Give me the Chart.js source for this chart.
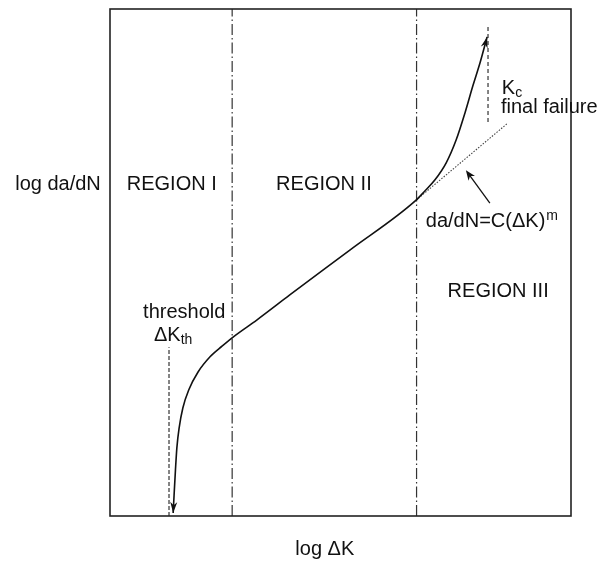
<!DOCTYPE html>
<html>
<head>
<meta charset="utf-8">
<script src="https://cdn.jsdelivr.net/npm/chart.js@4/dist/chart.umd.min.js"></script>
<style>
  html, body { margin: 0; padding: 0; background: #fff; }
  #wrap { width: 603px; height: 563px; }
</style>
</head>
<body>
<div id="wrap"><canvas id="c" width="603" height="563"></canvas></div>
<script>
// Schematic fatigue crack growth curve: log da/dN against log ΔK (arbitrary units 0..10)
const axisRange = [0, 10];

// Crack growth curve (sigmoidal)
const curveX = [1.37, 1.39, 1.42, 1.45, 1.50, 1.58, 1.71, 1.91, 2.17, 2.43, 2.67, 3.19, 3.90, 5.21, 6.64, 6.83, 7.05, 7.29, 7.51, 7.70, 7.87, 8.03, 8.18];
const curveY = [0.06, 0.41, 0.91, 1.34, 1.74, 2.13, 2.49, 2.84, 3.14, 3.35, 3.53, 3.87, 4.36, 5.25, 6.23, 6.41, 6.63, 6.96, 7.42, 7.95, 8.48, 8.95, 9.45];

// Region boundaries (log ΔK)
const regionBounds = [2.65, 6.65];

// Threshold ΔKth marker
const thresholdX = [1.28, 1.28];
const thresholdY = [0, 3.33];

// Kc marker
const kcX = [8.20, 8.20];
const kcY = [7.77, 9.68];

// Paris-law extension da/dN = C(ΔK)^m
const parisX = [6.64, 8.63];
const parisY = [6.23, 7.75];

const pts = (xs, ys) => xs.map((x, i) => ({ x, y: ys[i] }));

const FONT = '"Liberation Sans", Arial, sans-serif';
const BIG = '20px ' + FONT;
const SMALL = '14px ' + FONT;

// Text annotations placed in data coordinates
const notes = [
  { text: 'REGION I',   x: 1.34, y: 6.53 },
  { text: 'REGION II',  x: 4.64, y: 6.53 },
  { text: 'REGION III', x: 8.42, y: 4.42 },
  { text: 'threshold',  x: 1.61, y: 4.02 }
];

function drawArrowHead(ctx, tipX, tipY, fromX, fromY, len, half) {
  const a = Math.atan2(tipY - fromY, tipX - fromX);
  ctx.beginPath();
  ctx.moveTo(tipX, tipY);
  ctx.lineTo(tipX - len * Math.cos(a) + half * Math.sin(a), tipY - len * Math.sin(a) - half * Math.cos(a));
  ctx.lineTo(tipX - len * Math.cos(a) * 0.7, tipY - len * Math.sin(a) * 0.7);
  ctx.lineTo(tipX - len * Math.cos(a) - half * Math.sin(a), tipY - len * Math.sin(a) + half * Math.cos(a));
  ctx.closePath();
  ctx.fill();
}

const decorations = {
  id: 'decorations',
  afterDatasetsDraw(chart) {
    const { ctx, chartArea: ca, scales: { x: sx, y: sy } } = chart;
    const px = v => sx.getPixelForValue(v);
    const py = v => sy.getPixelForValue(v);
    ctx.save();

    // frame
    ctx.strokeStyle = '#222';
    ctx.lineWidth = 1.6;
    ctx.strokeRect(ca.left, ca.top, ca.right - ca.left, ca.bottom - ca.top);

    ctx.fillStyle = '#111';
    ctx.textBaseline = 'middle';
    ctx.font = BIG;
    ctx.textAlign = 'center';
    notes.forEach(n => ctx.fillText(n.text, px(n.x), py(n.y)));

    // ΔK_th
    ctx.textAlign = 'left';
    let x0 = px(1.41) - 21, y0 = py(3.57);
    ctx.fillText('ΔK', x0, y0);
    let w = ctx.measureText('ΔK').width;
    ctx.font = SMALL;
    ctx.fillText('th', x0 + w, y0 + 5);

    // K_c and final failure
    ctx.font = BIG;
    x0 = px(8.50); y0 = py(8.44);
    ctx.fillText('K', x0, y0);
    w = ctx.measureText('K').width;
    ctx.font = SMALL;
    ctx.fillText('c', x0 + w, y0 + 5);
    ctx.font = BIG;
    ctx.fillText('final failure', px(8.48), py(8.05));

    // da/dN=C(ΔK)^m
    x0 = px(6.85); y0 = py(5.80);
    ctx.fillText('da/dN=C(ΔK)', x0, y0);
    w = ctx.measureText('da/dN=C(ΔK)').width;
    ctx.font = SMALL;
    ctx.fillText('m', x0 + w + 1, y0 - 6);

    // axis titles
    ctx.font = BIG;
    ctx.textAlign = 'center';
    ctx.fillText('log da/dN', ca.left - 52, py(6.53));
    ctx.fillText('log ΔK', px(4.66), ca.bottom + 33);

    // pointer arrow to the Paris line
    const ax1 = px(8.24), ay1 = py(6.17), ax2 = px(7.72), ay2 = py(6.82);
    ctx.strokeStyle = '#111';
    ctx.lineWidth = 1.3;
    ctx.beginPath();
    ctx.moveTo(ax1, ay1);
    ctx.lineTo(ax2 + (ax1 - ax2) * 0.15, ay2 + (ay1 - ay2) * 0.15);
    ctx.stroke();
    drawArrowHead(ctx, ax2, ay2, ax1, ay1, 10, 4);

    // arrow heads at the curve ends
    const n = curveX.length;
    drawArrowHead(ctx, px(curveX[0]), py(curveY[0]), px(curveX[1]), py(curveY[1]), 11, 3.5);
    drawArrowHead(ctx, px(curveX[n - 1]), py(curveY[n - 1]), px(curveX[n - 2]), py(curveY[n - 2]), 11, 3.5);

    ctx.restore();
  }
};

const lineDs = (data, opts) => Object.assign({
  data, showLine: true, pointRadius: 0, borderColor: '#111', borderWidth: 1.2, fill: false
}, opts);

new Chart(document.getElementById('c'), {
  type: 'scatter',
  data: {
    datasets: [
      lineDs(pts(curveX, curveY), { borderWidth: 1.6, cubicInterpolationMode: 'monotone' }),
      lineDs(pts([regionBounds[0], regionBounds[0]], axisRange), { borderDash: [11, 3, 1.5, 3], borderColor: '#333' }),
      lineDs(pts([regionBounds[1], regionBounds[1]], axisRange), { borderDash: [11, 3, 1.5, 3], borderColor: '#333' }),
      lineDs(pts(thresholdX, thresholdY), { borderDash: [4, 2], borderColor: '#333' }),
      lineDs(pts(kcX, kcY), { borderDash: [4, 3], borderColor: '#333' }),
      lineDs(pts(parisX, parisY), { borderDash: [1.5, 1.5], borderColor: '#444', borderWidth: 1.1 })
    ]
  },
  options: {
    responsive: false,
    animation: false,
    devicePixelRatio: 1,
    layout: { padding: { left: 110, right: 32, top: 9, bottom: 47 } },
    plugins: { legend: { display: false }, tooltip: { enabled: false } },
    scales: {
      x: { type: 'linear', min: axisRange[0], max: axisRange[1], display: false },
      y: { type: 'linear', min: axisRange[0], max: axisRange[1], display: false }
    }
  },
  plugins: [decorations]
});
</script>
</body>
</html>
